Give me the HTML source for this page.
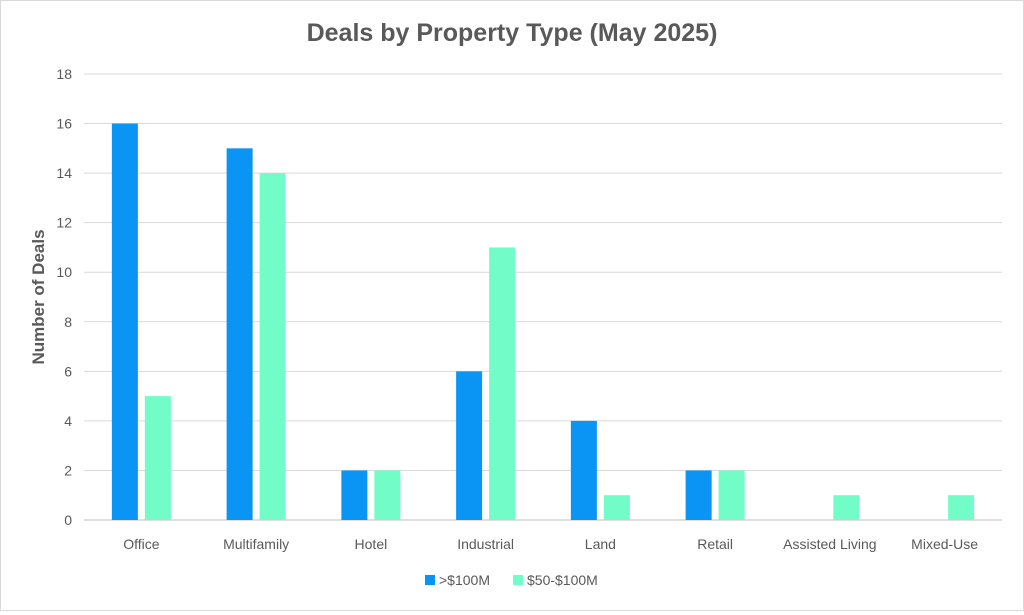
<!DOCTYPE html>
<html><head><meta charset="utf-8"><style>
body{margin:0;background:#fff;font-family:"Liberation Sans",sans-serif}
#wrap{width:1022px;height:609px;border:1px solid #d9d9d9;position:relative}
</style></head><body>
<div id="wrap">
<svg id="chart" width="1022" height="609"></svg>
</div>
<script>
const categories=["Office","Multifamily","Hotel","Industrial","Land","Retail","Assisted Living","Mixed-Use"];
const seriesOver100=[16,15,2,6,4,2,0,0];
const series50to100=[5,14,2,11,1,2,1,1];
const yTicks=[0,2,4,6,8,10,12,14,16,18];
const seriesNames=[">$100M","$50-$100M"];
const colors=["#0a95f5","#72fcc8"];
const NS="http://www.w3.org/2000/svg";
const svg=document.getElementById('chart');
const L=83,R=1001,T=73,B=519,yMax=18;
const y=v=>B-(v/yMax)*(B-T);
const band=(R-L)/categories.length;
const x=i=>L+band*i+band/2;
function mk(t,a,txt){const e=document.createElementNS(NS,t);for(const k in a)e.setAttribute(k,a[k]);if(txt!=null)e.textContent=txt;svg.appendChild(e);return e;}
let e=mk('text',{x:511,y:40,'text-anchor':'middle','font-size':25,'font-weight':'bold',fill:'#595959'},"Deals by Property Type (May 2025)");


yTicks.forEach(t=>{
  let g=mk('line',{x1:L,x2:R,y1:y(t),y2:y(t),stroke:t===0?'#bfbfbf':'#d9d9d9','stroke-width':1});
  
  
  let l=mk('text',{x:L-12,y:y(t)+5,'text-anchor':'end','font-size':14,fill:'#595959'},t);
  
  
});
e=mk('text',{x:43,y:(T+B)/2,'text-anchor':'middle','font-size':17,'font-weight':'bold',fill:'#595959',transform:`rotate(-90 43 ${(T+B)/2})`},"Number of Deals");


const bw=26,gap=7;
categories.forEach((c,i)=>{
  [seriesOver100,series50to100].forEach((s,k)=>{
    const v=s[i];
    const bx=k===0?x(i)-gap/2-bw:x(i)+gap/2;
    let r=mk('rect',{x:bx,y:y(v),width:bw,height:B-y(v),fill:colors[k]});
    
    
  });
  let l=mk('text',{x:x(i),y:548,'text-anchor':'middle','font-size':14,fill:'#595959'},c);
  
  
});
const lx=[424,512];
seriesNames.forEach((n,k)=>{
  let r=mk('rect',{x:lx[k],y:574,width:10,height:10,fill:colors[k]});
  
  
  let t=mk('text',{x:lx[k]+14,y:584,'font-size':14,fill:'#595959'},n);
  
  
});
</script>
</body></html>
